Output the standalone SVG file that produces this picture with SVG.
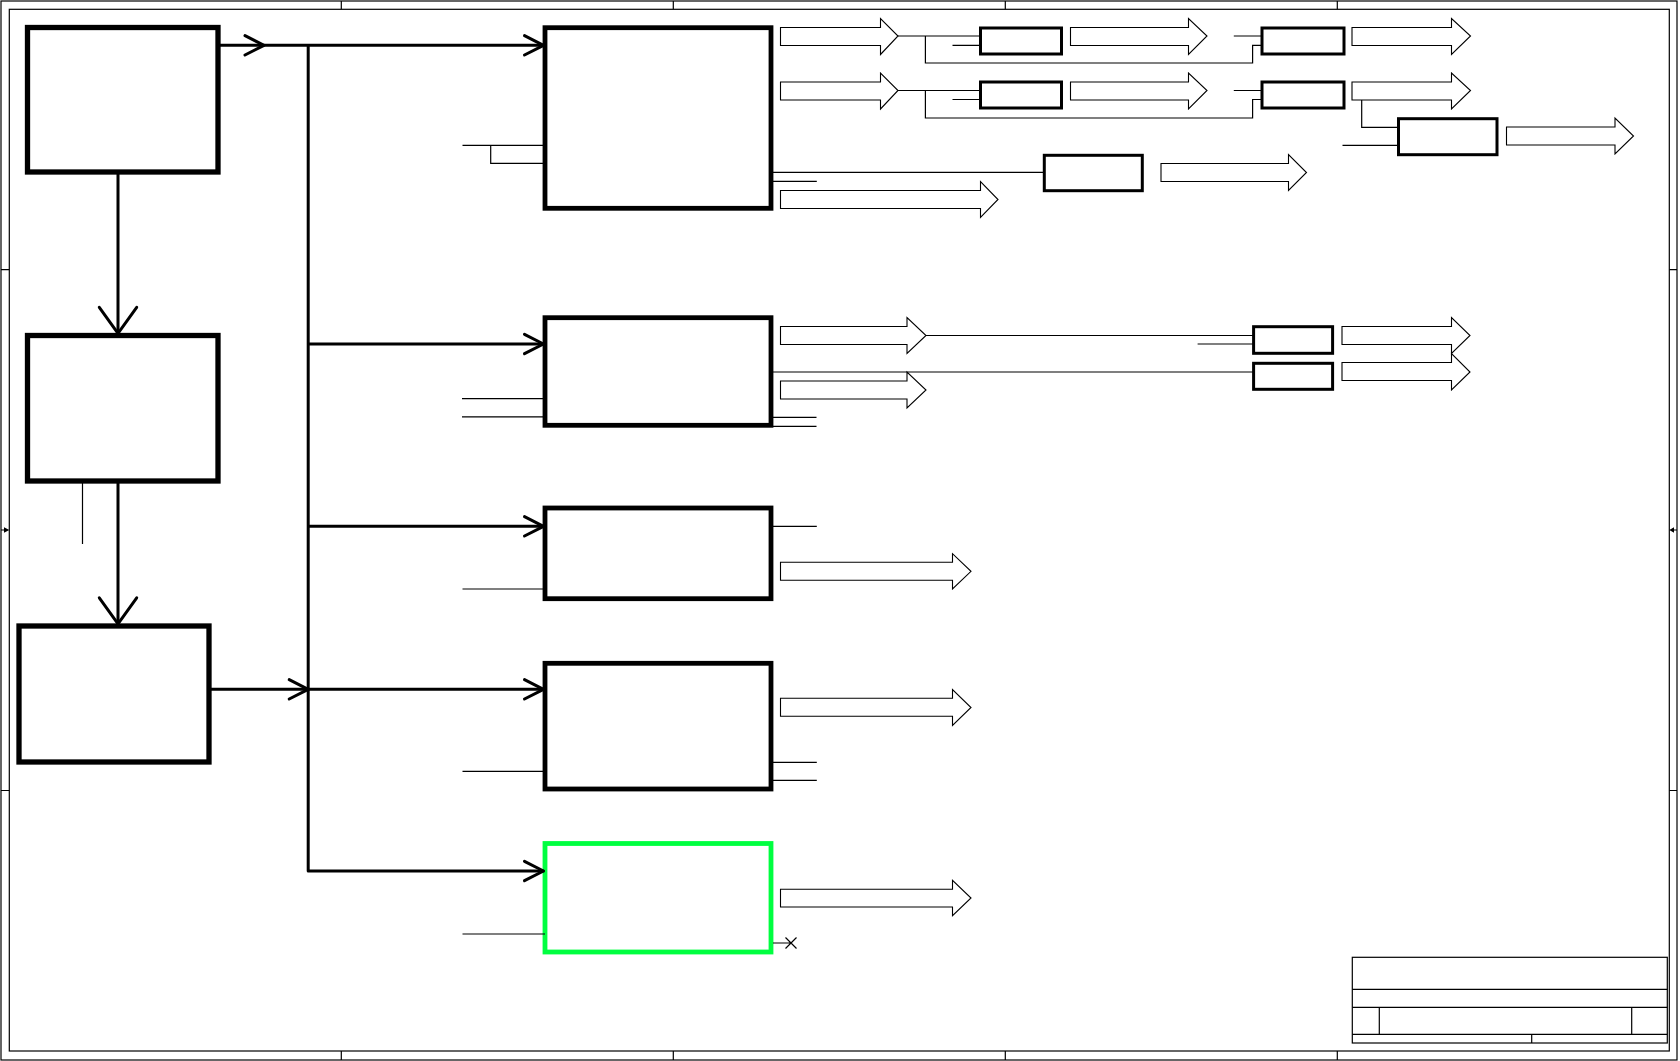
<svg xmlns="http://www.w3.org/2000/svg" xmlns:xlink="http://www.w3.org/1999/xlink" width="1680" height="1061" viewBox="0 0 1680 1061">
<style>
.frame{fill:none;stroke:#000;stroke-width:1.2}
.blk{fill:#fff;stroke:#000;stroke-width:5.3}
.mid{fill:#fff;stroke:#000;stroke-width:4.8}
.grn{fill:#fff;stroke:#00ff40;stroke-width:4.8}
.sm{fill:#fff;stroke:#000;stroke-width:3}
.conn{fill:none;stroke:#000;stroke-width:3;stroke-linecap:round;stroke-linejoin:round}
.thin{fill:none;stroke:#000;stroke-width:1.2}
.barrow{fill:#fff;stroke:#000;stroke-width:1.1}
</style>
<defs>
<path id="vh" d="M-19,-9.7 L0,0 L-19,9.7" class="conn"/>
<path id="vv" d="M-18.7,-26 L0,0 L18.7,-26" class="conn"/>
</defs>
<rect width="1680" height="1061" fill="#fff"/>
<g id="frame">
<rect class="frame" x="1" y="1" width="1676" height="1059"/>
<rect class="frame" x="9.3" y="9.3" width="1660" height="1041.7"/>
<path class="frame" d="M341.3,1V9.3M673.3,1V9.3M1005.3,1V9.3M1337.3,1V9.3M341.3,1051V1060M673.3,1051V1060M1005.3,1051V1060M1337.3,1051V1060M1,269.7H9.3M1,790.5H9.3M1669.3,269.7H1677M1669.3,790.5H1677M1,530H5M1677,530H1673"/>
<path d="M4,527.3L9.3,530L4,532.7Z M1674,527.3L1669.3,530L1674,532.7Z" fill="#000"/>
</g>
<g id="title-block">
<rect class="frame" x="1352.3" y="957.3" width="315" height="85.7"/>
<path class="frame" d="M1352.3,989.3H1667.3M1352.3,1007.3H1667.3M1352.3,1034.3H1667.3M1379.3,1007.3V1034.3M1631.7,1007.3V1034.3M1531.7,1034.3V1043"/>
</g>
<g id="node-a"><rect class="blk" x="27.5" y="27.5" width="190.5" height="144.5"/></g>
<g id="node-b"><rect class="blk" x="27.5" y="335.5" width="190.5" height="145.5"/></g>
<g id="node-c"><rect class="blk" x="19" y="626" width="190" height="136"/></g>
<g id="node-d"><rect class="mid" x="545" y="27.7" width="226" height="180.6"/></g>
<g id="node-e"><rect class="mid" x="545" y="317.7" width="226" height="107.6"/></g>
<g id="node-f"><rect class="mid" x="545" y="508" width="226" height="90.7"/></g>
<g id="node-g"><rect class="mid" x="545" y="663.3" width="226" height="125.7"/></g>
<g id="node-h"><rect class="grn" x="545" y="843.5" width="226" height="108.5"/></g>
<g id="node-s1"><rect class="sm" x="980.5" y="28" width="81" height="26"/></g>
<g id="node-s2"><rect class="sm" x="1262" y="28" width="82" height="26"/></g>
<g id="node-s3"><rect class="sm" x="980.5" y="82" width="81" height="26"/></g>
<g id="node-s4"><rect class="sm" x="1262" y="82" width="82" height="26"/></g>
<g id="node-s5"><rect class="sm" x="1398.5" y="118.7" width="98.5" height="36"/></g>
<g id="node-s6"><rect class="sm" x="1044.3" y="155.3" width="98" height="35.4"/></g>
<g id="node-e2"><rect class="sm" x="1253.6" y="326.7" width="79" height="26.6"/></g>
<g id="node-e3"><rect class="sm" x="1253.6" y="363.3" width="79" height="26"/></g>
<g id="connectors">
<path class="conn" d="M218,45.3H543M308.2,45.3V871M308.2,344H543M308.2,526.3H543M308.2,689.3H543M308.2,871H543M209,689.3H308.2M118,172V333M118,481V623.5"/>
<use xlink:href="#vh" x="264" y="45.3"/>
<use xlink:href="#vh" x="543.5" y="45.3"/>
<use xlink:href="#vh" x="543.5" y="344"/>
<use xlink:href="#vh" x="543.5" y="526.3"/>
<use xlink:href="#vh" x="543.5" y="689.3"/>
<use xlink:href="#vh" x="543.5" y="871"/>
<use xlink:href="#vh" x="308.2" y="689.3"/>
<use xlink:href="#vv" x="118" y="333.3"/>
<use xlink:href="#vv" x="118" y="623.8"/>
<path class="thin" d="M82.5,481V544
M462.5,145.3H545M490.7,145.3V163.3H545
M462,398.6H545M462,416.8H545
M462.5,589H545M462.5,771.3H545M462.5,934H545
M898,36H980.5M952.5,45.3H980.5M925.4,36V63H1252.6V45.3H1262M1233.8,36H1262
M898,90.5H980.5M952.5,99.5H980.5M925.4,90.5V118H1252.6V99.5H1262M1233.8,90.5H1262
M1361.7,100V127.3H1398.5M1342.5,145.3H1398.5
M773,172.3H1044.3M773,181.3H816.8
M926,335.5H1253.6M1197.6,344H1253.6M773,372H1253.6M773,417.3H816.5M773,426.3H816.5
M773,526.3H816.8M773,762.3H816.8M773,780.3H816.8
M773,943H791M785.5,937.5L796.5,948.5M785.5,948.5L796.5,937.5"/>
<path class="barrow" d="M780.5,27.5H880.5V18.5L898,36L880.5,54.5V45.5H780.5Z"/>
<path class="barrow" d="M1070.5,27.5H1188.5V18.5L1207,36L1188.5,54.5V45.5H1070.5Z"/>
<path class="barrow" d="M1352,27.5H1451.5V18.5L1470.5,36L1451.5,54.5V45.5H1352Z"/>
<path class="barrow" d="M780.5,82H880.5V73L898,90.5L880.5,109V100H780.5Z"/>
<path class="barrow" d="M1070.5,82H1188.5V73L1207,90.5L1188.5,109V100H1070.5Z"/>
<path class="barrow" d="M1352,82H1451.5V73L1470.5,90.5L1451.5,109V100H1352Z"/>
<path class="barrow" d="M1506.5,127H1615V118L1633.5,136L1615,154V145H1506.5Z"/>
<path class="barrow" d="M1161,163.5H1288.5V154.5L1306.5,172.5L1288.5,190.5V181.5H1161Z"/>
<path class="barrow" d="M780.5,190.5H980.5V181.5L998,199.5L980.5,217.5V208.5H780.5Z"/>
<path class="barrow" d="M780.5,326.5H907V317.5L926,335.5L907,353.5V344.5H780.5Z"/>
<path class="barrow" d="M780.5,381H907V372L926,390L907,408V399H780.5Z"/>
<path class="barrow" d="M1342,326.5H1451.5V317.5L1470,335.5L1451.5,353.5V344.5H1342Z"/>
<path class="barrow" d="M1342,362.5H1451.5V353.5L1470,372L1451.5,390V380.5H1342Z"/>
<path class="barrow" d="M780.5,562.3H952.5V553.7L971,571.3L952.5,589V580.3H780.5Z"/>
<path class="barrow" d="M780.5,698.3H952.5V689.5L971,707.5L952.5,725.5V716.3H780.5Z"/>
<path class="barrow" d="M780.5,889.3H952.5V880.3L971,898L952.5,915.7V907H780.5Z"/>
</g>
</svg>
